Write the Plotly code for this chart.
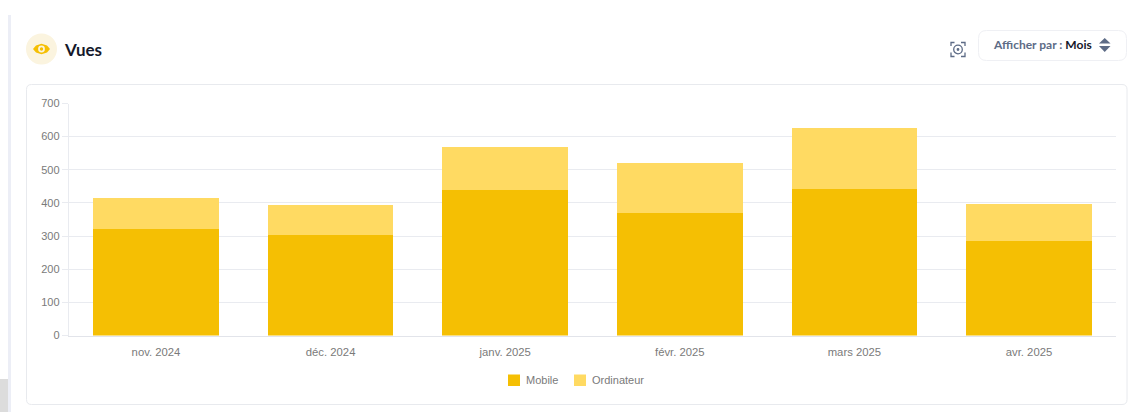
import plotly.graph_objects as go

WIDTH, HEIGHT = 1131, 412

months = ["nov. 2024", "déc. 2024", "janv. 2025", "févr. 2025", "mars 2025", "avr. 2025"]
mobile = [320, 304, 438, 369, 441, 284]
ordinateur = [95, 89, 130, 151, 184, 112]
y_ticks = [0, 100, 200, 300, 400, 500, 600, 700]

GOLD = "#f5bf03"
LIGHT_GOLD = "#ffda62"
GRID = "#e9ebf0"
AXIS_TEXT = "#7a7a7a"
INK = "#15182b"
SLATE = "#5d6b86"


def px(x):
    return x / WIDTH


def py(y):
    return 1 - y / HEIGHT


def box(x0, y0, x1, y1, fill=None, line=None, radius=0, lw=1):
    """Rectangle in page pixels, with optional rounded corners."""
    if radius:
        r = radius
        rx, ry = r / WIDTH, r / HEIGHT
        a, b, c, d = px(x0), px(x1), py(y0), py(y1)
        path = (
            f"M {a + rx} {c} L {b - rx} {c} Q {b} {c} {b} {c - ry} "
            f"L {b} {d + ry} Q {b} {d} {b - rx} {d} "
            f"L {a + rx} {d} Q {a} {d} {a} {d + ry} "
            f"L {a} {c - ry} Q {a} {c} {a + rx} {c} Z"
        )
        geom = dict(type="path", path=path)
    else:
        geom = dict(type="rect", x0=px(x0), x1=px(x1), y0=py(y0), y1=py(y1))
    return dict(
        **geom, xref="paper", yref="paper", layer="below",
        fillcolor=fill or "rgba(0,0,0,0)",
        line=dict(color=line or "rgba(0,0,0,0)", width=lw if line else 0),
    )


def circle(cx, cy, r, fill=None, line=None, lw=1, layer="above"):
    return dict(
        type="circle", xref="paper", yref="paper", layer=layer,
        x0=px(cx - r), x1=px(cx + r), y0=py(cy + r), y1=py(cy - r),
        fillcolor=fill or "rgba(0,0,0,0)",
        line=dict(color=line or "rgba(0,0,0,0)", width=lw if line else 0),
    )


def poly(points, fill=None, line=None, lw=1, close=True):
    d = " ".join(
        ("M" if i == 0 else "L") + f" {px(x)} {py(y)}" for i, (x, y) in enumerate(points)
    )
    if close:
        d += " Z"
    return dict(
        type="path", path=d, xref="paper", yref="paper", layer="above",
        fillcolor=fill or "rgba(0,0,0,0)",
        line=dict(color=line or "rgba(0,0,0,0)", width=lw if line else 0),
    )


def label(text, x, y, size, color, family="Lato, sans-serif"):
    return dict(
        text=text, x=px(x), y=py(y), xref="paper", yref="paper",
        xanchor="left", yanchor="middle", showarrow=False, borderpad=0,
        font=dict(family=family, size=size, color=color),
    )


shapes = [
    # page edge strips
    box(0, 379, 8, 412, fill="#dcdcdc"),
    box(8, 15, 11, 412, fill="#eceef6"),
    # chart card and period selector
    box(26.5, 84.5, 1127, 404.5, fill="#ffffff", line="#e8eaee", radius=5),
    box(978.5, 30.5, 1126.5, 60.5, fill="#ffffff", line="#eff0f4", radius=8),
    # eye badge
    circle(41.5, 49, 15.5, fill="#fbf4df", layer="below"),
    poly([(33, 49), (36, 45.5), (41.5, 43.8), (47, 45.5), (50, 49),
          (47, 52.5), (41.5, 54.2), (36, 52.5)], fill=GOLD),
    circle(41.5, 49, 3.4, fill="#fbf4df"),
    circle(41.5, 49, 1.7, fill=GOLD),
    # screenshot icon: corner brackets around a small camera
    poly([(951, 46), (951, 42.5), (954.5, 42.5)], line=SLATE, lw=1.3, close=False),
    poly([(961, 42.5), (965, 42.5), (965, 46)], line=SLATE, lw=1.3, close=False),
    poly([(951, 52.5), (951, 56.5), (954.5, 56.5)], line=SLATE, lw=1.3, close=False),
    poly([(961, 56.5), (965, 56.5), (965, 52.5)], line=SLATE, lw=1.3, close=False),
    circle(958, 49.5, 4.3, line=SLATE, lw=1.3),
    circle(958, 49.5, 1.4, fill=SLATE),
    # up/down selector arrows
    poly([(1099, 43.5), (1110.5, 43.5), (1104.7, 38)], fill=SLATE),
    poly([(1099, 46), (1110.5, 46), (1104.7, 52)], fill=SLATE),
    # legend swatches
    box(508, 374.5, 520, 386, fill=GOLD),
    box(574, 374.5, 586, 386, fill=LIGHT_GOLD),
]

annotations = [
    label("<b>Vues</b>", 63, 49, 17, INK),
    label(f'<b>Afficher par : <span style="color:{INK}">Mois</span></b>', 992, 45, 12, SLATE),
    label("Mobile", 525, 380, 11, AXIS_TEXT, "Liberation Sans, Arial, sans-serif"),
    label("Ordinateur", 591, 380, 11, AXIS_TEXT, "Liberation Sans, Arial, sans-serif"),
]

fig = go.Figure()
fig.add_bar(name="Mobile", x=months, y=mobile, marker=dict(color=GOLD, line_width=0))
fig.add_bar(name="Ordinateur", x=months, y=ordinateur, marker=dict(color=LIGHT_GOLD, line_width=0))

fig.update_layout(
    width=WIDTH,
    height=HEIGHT,
    autosize=False,
    margin=dict(l=0, r=0, t=0, b=0),
    barmode="stack",
    bargap=0.28,
    showlegend=False,
    paper_bgcolor="#ffffff",
    plot_bgcolor="rgba(0,0,0,0)",
    font=dict(family="Liberation Sans, Arial, sans-serif", size=11, color=AXIS_TEXT),
    xaxis=dict(
        automargin=False,
        domain=[px(68.7), px(1116.3)],
        showgrid=False,
        showline=True,
        linecolor="#e2e4ea",
        linewidth=1,
        ticks="",
        ticklabelstandoff=6,
        tickfont=dict(size=11.3, color=AXIS_TEXT),
    ),
    yaxis=dict(
        automargin=False,
        domain=[py(335.5), py(103.5)],
        range=[0, 700],
        tickvals=y_ticks,
        showgrid=True,
        gridcolor=GRID,
        gridwidth=1,
        zeroline=False,
        showline=True,
        linecolor=GRID,
        linewidth=1,
        ticks="outside",
        ticklen=6,
        tickcolor=GRID,
        tickfont=dict(size=11, color=AXIS_TEXT),
    ),
    shapes=shapes,
    annotations=annotations,
)

fig.write_html("out.html", config=dict(displayModeBar=False))
